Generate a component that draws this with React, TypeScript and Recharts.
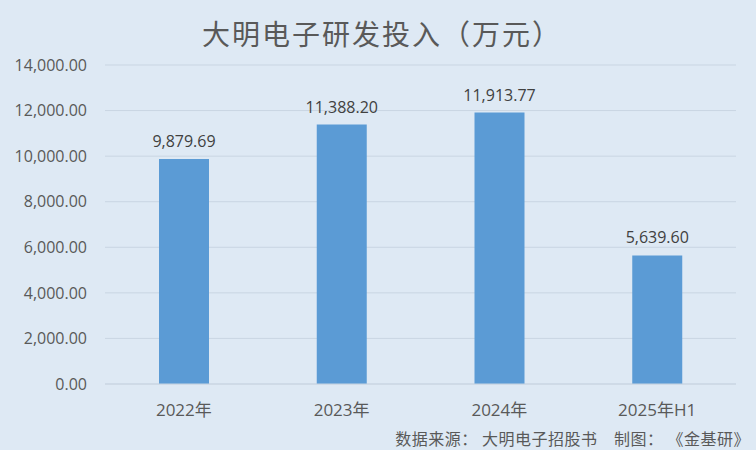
import { Bar, BarChart, CartesianGrid, LabelList, XAxis, YAxis } from "recharts";

const years = ["2022年", "2023年", "2024年", "2025年H1"];
const rdSpend = [9879.69, 11388.2, 11913.77, 5639.6];
const yTicks = [0, 2000, 4000, 6000, 8000, 10000, 12000, 14000];

const data = years.map((year, i) => ({ year, value: rdSpend[i] }));

const fmt = (v: number) =>
  Number(v).toLocaleString("en-US", { minimumFractionDigits: 2, maximumFractionDigits: 2 });

const font = '"Open Sans", "Noto Sans CJK SC", sans-serif';

export default function App() {
  return (
    <div
      style={{
        position: "absolute",
        left: 0,
        top: 0,
        width: 756,
        height: 450,
        background: "#dee9f4",
        fontFamily: font,
        overflow: "hidden",
      }}
    >
      <div
        style={{
          position: "absolute",
          top: 13,
          left: 4,
          width: 756,
          textAlign: "center",
          fontSize: 28,
          color: "#595959",
          fontFamily: '"Noto Sans CJK SC", sans-serif',
          letterSpacing: 2,
        }}
      >
        大明电子研发投入（万元）
      </div>
      <BarChart
        width={756}
        height={450}
        data={data}
        margin={{ top: 65, right: 20, left: 0, bottom: 36 }}
        barSize={50}
      >
        <CartesianGrid vertical={false} stroke="#c9d5e2" />
        <XAxis
          dataKey="year"
          axisLine={{ stroke: "#c9d5e2" }}
          tickLine={false}
          tick={{ fill: "#595959", fontSize: 17, fontFamily: font }}
          tickMargin={14}
        />
        <YAxis
          width={105}
          domain={[0, 14000]}
          ticks={yTicks}
          axisLine={false}
          tickLine={false}
          tickFormatter={fmt}
          tick={{ fill: "#595959", fontSize: 16, fontFamily: font }}
          tickMargin={12}
        />
        <Bar dataKey="value" fill="#5b9bd5" isAnimationActive={false}>
          <LabelList
            dataKey="value"
            position="top"
            offset={12}
            formatter={(v: any) => fmt(v)}
            style={{ fill: "#404040", fontSize: 16, fontFamily: font }}
          />
        </Bar>
      </BarChart>
      <div
        style={{
          position: "absolute",
          right: 6,
          top: 426,
          fontSize: 16,
          color: "#595959",
          fontFamily: '"Noto Sans CJK SC", sans-serif',
          letterSpacing: 0.5,
          whiteSpace: "pre",
        }}
      >
        数据来源： 大明电子招股书　制图： 《金基研》
      </div>
    </div>
  );
}
